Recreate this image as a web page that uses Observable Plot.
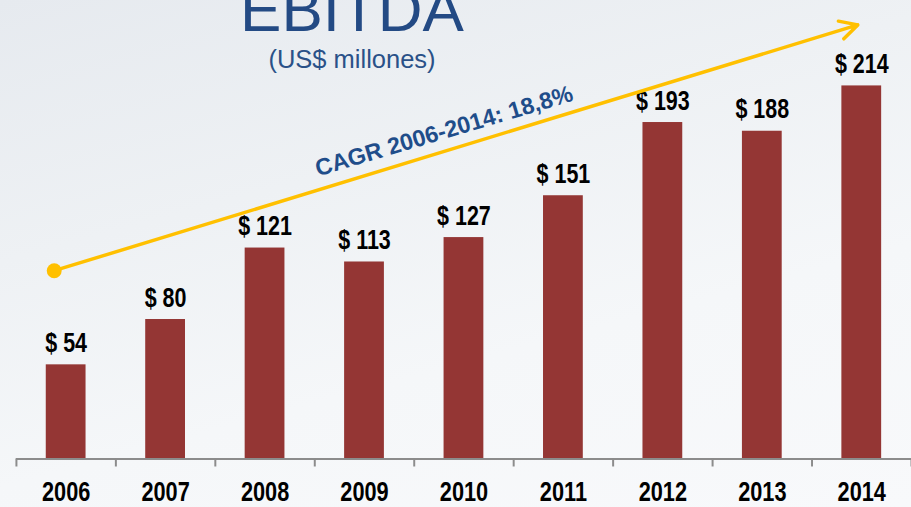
<!DOCTYPE html>
<html>
<head>
<meta charset="utf-8">
<script src="https://cdn.jsdelivr.net/npm/d3@7"></script>
<script src="https://cdn.jsdelivr.net/npm/@observablehq/plot@0.6"></script>
<style>
html, body { margin: 0; padding: 0; width: 911px; height: 507px; overflow: hidden; }
body {
  position: relative;
  font-family: "Liberation Sans", Arial, sans-serif;
  background: linear-gradient(165deg, #e6eaef 0%, #eef1f4 35%, #f5f7f9 65%, #f8f9fb 100%);
}
#title {
  position: absolute; left: 0; width: 704px; text-align: center;
  top: -21px; font-size: 62px; line-height: 62px; color: #234a84; white-space: nowrap;
}
#subtitle {
  position: absolute; left: 0; width: 704px; text-align: center;
  top: 46px; font-size: 25.5px; line-height: 26px; color: #2a5188; white-space: nowrap;
}
#chart { position: absolute; left: 0; top: 0; }
</style>
</head>
<body>
<div id="chart"></div>
<div id="title">EBITDA</div>
<div id="subtitle">(US$ millones)</div>
<script>
const years = [2006, 2007, 2008, 2009, 2010, 2011, 2012, 2013, 2014];
const ebitda = [54, 80, 121, 113, 127, 151, 193, 188, 214];
const valueLabels = ["$ 54", "$ 80", "$ 121", "$ 113", "$ 127", "$ 151", "$ 193", "$ 188", "$ 214"];
const yearBoundaries = [2005.5, 2006.5, 2007.5, 2008.5, 2009.5, 2010.5, 2011.5, 2012.5, 2013.5, 2014.5];
const cagrLabel = "CAGR 2006-2014: 18,8%";
const trendStart = { year: 2005.88, value: 108 };
const trendEnd = { year: 2013.96, value: 249 };
const cagrPos = { year: 2009.8, value: 188 };

const data = years.map((y, i) => ({ year: y, value: ebitda[i], label: valueLabels[i] }));
const sans = "'Liberation Sans', Arial, sans-serif";

const chart = Plot.plot({
  width: 916,
  height: 507,
  marginLeft: 16,
  marginRight: 0,
  marginTop: 0,
  marginBottom: 46,
  style: { background: "transparent", overflow: "visible" },
  x: { type: "linear", domain: [2005.5, 2014.5] },
  y: { domain: [0, 263], axis: null },
  marks: [
    Plot.rectY(data, { x1: d => d.year - 0.2, x2: d => d.year + 0.2, y: "value", fill: "#943634" }),
    Plot.ruleY([0], { stroke: "#8c8c8c", strokeWidth: 2 }),
    Plot.ruleX(yearBoundaries, { y1: 0, y2: -4.6, stroke: "#8c8c8c", strokeWidth: 2 }),
    Plot.text(data, {
      x: "year", y: "value", text: "label", lineAnchor: "bottom", dy: -13,
      fontSize: 27, fontWeight: "bold", fill: "#000", fontFamily: sans
    }),
    Plot.axisX(years, {
      tickSize: 0, tickPadding: 22, fontSize: 28, fontWeight: "bold", fill: "#000",
      fontFamily: sans, tickFormat: d => String(d), label: null
    }),
    Plot.arrow([{ s: trendStart, e: trendEnd }], {
      x1: d => d.s.year, y1: d => d.s.value, x2: d => d.e.year, y2: d => d.e.value,
      stroke: "#FFC000", strokeWidth: 3.5, headLength: 8.5, headAngle: 56
    }),
    Plot.dot([trendStart], { x: "year", y: "value", r: 7.5, fill: "#FFC000" }),
    Plot.text([cagrLabel], {
      x: cagrPos.year, y: cagrPos.value, text: d => d, rotate: -16.5,
      fontSize: 23.5, fontWeight: "bold", fill: "#1f4d8a", fontFamily: sans
    })
  ]
});

// condense the bold labels horizontally (narrow bold typeface look)
d3.select(chart).selectAll("text").each(function () {
  const t = this.textContent;
  const isYear = years.map(String).includes(t);
  const isValue = valueLabels.includes(t);
  if (isYear || isValue) {
    const tr = this.getAttribute("transform") || "";
    this.setAttribute("transform", tr + (isYear ? " scale(0.78,1)" : " scale(0.8,1)"));
  }
});

document.getElementById("chart").appendChild(chart);
</script>
</body>
</html>
